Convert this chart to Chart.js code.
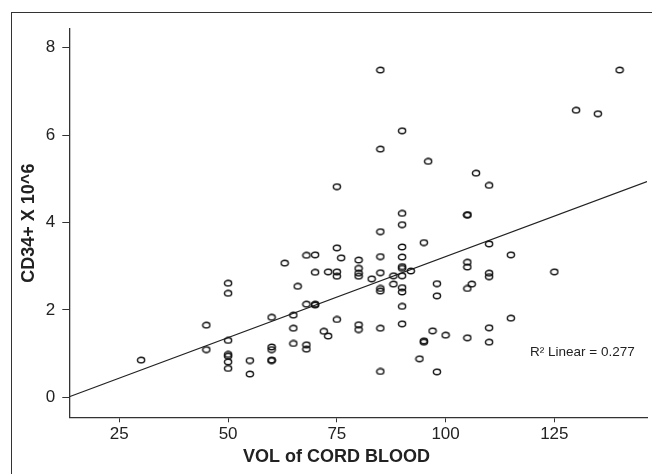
<!DOCTYPE html>
<html>
<head>
<meta charset="utf-8">
<script src="https://cdn.jsdelivr.net/npm/chart.js@4"></script>
<style>
  html, body { margin: 0; padding: 0; background: #fff; overflow: hidden; }
  #frame { position: absolute; left: 11px; top: 12px; width: 700px; height: 500px;
           border-top: 1.5px solid #333; border-left: 1.5px solid #333; }
  #plot { position: absolute; left: 0; top: 0; }
</style>
</head>
<body>
<div id="frame"></div>
<canvas id="plot" width="652" height="474"></canvas>
<script>
// cord blood volume (x) and CD34+ count (y), one entry per sample
const volCordBlood = [30,45,45,50,50,50,50,50,50,50,55,55,60,60,60,60,60,63,65,65,65,66,68,68,68,68,70,70,70,70,72,73,73,75,75,75,75,75,76,80,80,80,80,80,80,83,85,85,85,85,85,85,85,85,85,88,88,90,90,90,90,90,90,90,90,90,90,90,90,92,94,95,95,95,96,97,98,98,98,100,105,105,105,105,105,105,106,107,110,110,110,110,110,110,115,115,125,130,135,140];
const cd34 = [0.85,1.65,1.09,2.61,2.38,1.30,0.98,0.94,0.81,0.66,0.84,0.53,1.83,1.15,1.09,0.85,0.84,3.07,1.88,1.58,1.23,2.54,3.25,2.13,1.20,1.10,3.26,2.86,2.13,2.11,1.51,2.87,1.40,3.42,4.82,2.87,2.77,1.78,3.19,3.14,2.95,2.84,2.77,1.66,1.55,2.71,7.49,5.68,3.79,3.22,2.85,2.49,2.43,1.58,0.59,2.78,2.59,6.10,4.21,3.95,3.44,3.21,2.99,2.95,2.78,2.51,2.41,2.08,1.68,2.89,0.88,3.54,1.29,1.26,5.40,1.52,2.60,2.32,0.58,1.42,4.18,4.17,3.09,2.98,2.49,1.36,2.59,5.13,4.85,3.51,2.84,2.76,1.59,1.26,3.26,1.81,2.87,6.57,6.49,7.49];

// linear fit
const fitIntercept = -0.49;
const fitSlope = 0.0371;
const fitLabel = 'R\u00B2 Linear = 0.277';

const xTicks = [25, 50, 75, 100, 125];
const yTicks = [0, 2, 4, 6, 8];
const xRange = [13.5, 146.3];
const yRange = [-0.46, 8.43];

const xTitle = 'VOL of CORD BLOOD';
const yTitle = 'CD34+ X 10^6';

const points = volCordBlood.map((v, i) => ({x: v, y: cd34[i]}));
const fitLine = xRange.map(v => ({x: v, y: fitIntercept + fitSlope * v}));

// open elliptical marker like the original plot
const marker = document.createElement('canvas');
marker.width = 10;
marker.height = 8;
const mctx = marker.getContext('2d');
mctx.strokeStyle = '#111';
mctx.lineWidth = 1.4;
mctx.beginPath();
mctx.ellipse(5, 4, 3.6, 2.7, 0, 0, Math.PI * 2);
mctx.stroke();

const FONT = '"Liberation Sans", Arial, sans-serif';

const textBits = {
    id: 'textBits',
    afterDraw(chart) {
        const c = chart.ctx;
        c.save();
        c.fillStyle = '#222';
        c.font = 'bold 18px ' + FONT;
        c.textAlign = 'center';
        c.textBaseline = 'middle';
        c.fillText(xTitle, 336.5, 457);
        c.font = '13.5px ' + FONT;
        c.textAlign = 'left';
        c.fillText(fitLabel, 530, 352);
        c.restore();
    }
};

const ctx = document.getElementById('plot').getContext('2d');
const myScatter = new Chart(ctx, {
    type: 'scatter',
    data: {
        datasets: [
            {
                data: points,
                pointStyle: marker,
                pointRadius: 4,
                pointHoverRadius: 4
            },
            {
                data: fitLine,
                showLine: true,
                borderColor: '#222',
                borderWidth: 1.2,
                pointRadius: 0,
                pointHoverRadius: 0
            }
        ]
    },
    options: {
        responsive: false,
        animation: false,
        devicePixelRatio: 1,
        layout: {padding: {left: 0, top: 29, right: 5, bottom: 0}},
        plugins: {legend: {display: false}, tooltip: {enabled: false}},
        scales: {
            x: {
                type: 'linear',
                min: xRange[0],
                max: xRange[1],
                afterBuildTicks: s => { s.ticks = xTicks.map(v => ({value: v})); },
                afterFit: s => { s.height = 56.7; },
                grid: {display: true, drawOnChartArea: false, tickLength: 5, color: '#333', lineWidth: 1},
                border: {color: '#333', width: 1.3},
                ticks: {color: '#222', padding: 2, font: {family: FONT, size: 17}}
            },
            y: {
                type: 'linear',
                min: yRange[0],
                max: yRange[1],
                afterBuildTicks: s => { s.ticks = yTicks.map(v => ({value: v})); },
                afterFit: s => { s.width = 69.3; },
                grid: {display: true, drawOnChartArea: false, tickLength: 7, color: '#333', lineWidth: 1},
                border: {color: '#333', width: 1.3},
                ticks: {color: '#222', padding: 7, font: {family: FONT, size: 17}},
                title: {display: true, text: yTitle, color: '#222', padding: {top: 18, bottom: 0},
                        font: {family: FONT, size: 18, weight: 'bold'}}
            }
        }
    },
    plugins: [textBits]
});
</script>
</body>
</html>
